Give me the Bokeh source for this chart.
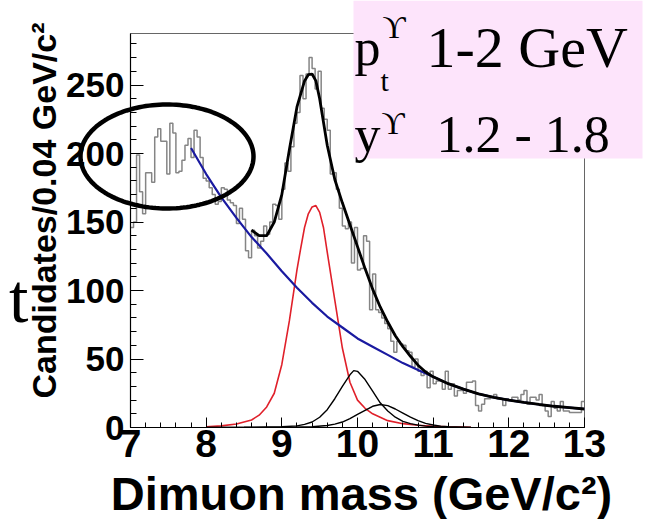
import numpy as np
from bokeh.plotting import figure
from bokeh.layouts import column
from bokeh.models import Range1d, SingleIntervalTicker, Label, PolyAnnotation, BoxAnnotation
from bokeh.embed import file_html
from bokeh.resources import INLINE

# ---------------- data ----------------
bin_width = 0.04
hist_start = 7.0
counts = [
    146, 150, 199, 172, 156, 186, 186, 179, 212, 218, 209, 209, 185, 222, 215,
    186, 187, 195, 206, 211, 197, 217, 212, 197, 182,
    180, 175, 170, 163, 165, 175, 174, 166, 164, 162, 149, 160, 152, 129, 124,
    144, 140, 131, 136, 147, 141, 150, 163,
    162, 152, 174, 193, 187, 205, 222, 230, 257, 240, 258, 270, 262, 247, 260,
    233, 225, 217, 185, 186, 174, 160, 147, 145, 150, 120, 146,
    115, 116, 140, 136, 86, 112, 86, 84, 80, 76, 72, 63, 55, 63, 61,
    60, 56, 55, 44, 50, 41, 38, 41, 29, 41, 32, 34, 34, 28, 41,
    28, 32, 23, 27, 27, 25, 33, 33, 34, 16, 12, 17, 21, 21, 22,
    24, 21, 21, 16, 21, 20, 22, 22, 20, 24, 27, 17, 22, 22, 20,
    24, 16, 12, 8, 19, 14, 12, 19, 12, 12, 11, 11, 11, 11, 19,
]

bkg_x = [7.8, 8.0, 8.2, 8.4, 8.6, 8.8, 9.0, 9.2, 9.4, 9.6, 9.8, 10.0, 10.2, 10.4,
         10.6, 10.8, 11.0, 11.2, 11.4, 11.6, 11.8, 12.0, 12.2, 12.4, 12.6, 12.8, 13.0]
bkg_y = [204, 185, 168, 153, 139, 127, 114, 102, 91, 81, 73, 65, 59, 53,
         47, 42, 37, 32, 28, 24.5, 22, 20, 18.3, 16.8, 15.5, 14.5, 13.5]

y1s_x = [8.0, 8.2, 8.4, 8.6, 8.7, 8.8, 8.9, 9.0, 9.1, 9.2, 9.25, 9.3, 9.35, 9.4,
         9.45, 9.5, 9.55, 9.6, 9.7, 9.8, 9.9, 10.0, 10.1, 10.2, 10.4, 10.6, 10.8,
         11.0, 11.2, 11.5]
y1s_y = [0.5, 1.2, 2.5, 5.5, 9, 15, 25, 46, 78, 115, 131, 146, 156, 161,
         162, 157, 146, 128, 93, 58, 33, 20, 14, 10, 5, 2.8, 1.6,
         0.9, 0.5, 0.2]

y2s_x = [8.0, 8.5, 9.0, 9.2, 9.3, 9.4, 9.5, 9.6, 9.7, 9.8, 9.9, 9.95, 10.0, 10.1,
         10.2, 10.3, 10.4, 10.5, 10.6, 10.7, 10.8, 10.9, 11.0, 11.2, 11.5]
y2s_y = [0.1, 0.2, 0.5, 1.2, 2.3, 4, 7.5, 13, 21, 30, 38.5, 41.5, 41, 35,
         26.5, 18, 12, 7.5, 4.5, 2.8, 1.7, 1, 0.6, 0.2, 0.1]

y3s_x = [8.0, 9.0, 9.4, 9.6, 9.7, 9.8, 9.9, 10.0, 10.1, 10.2, 10.3, 10.4, 10.5,
         10.6, 10.7, 10.8, 10.9, 11.0, 11.1, 11.2, 11.5]
y3s_y = [0.05, 0.1, 0.5, 1.5, 2.5, 4, 6.5, 9.5, 12.5, 15.5, 16.8, 16, 13.5,
         10.5, 7.5, 5, 3, 1.8, 1, 0.5, 0.1]

tot_x = [8.6, 8.7, 8.8, 8.9, 9.0, 9.1, 9.2, 9.3, 9.35, 9.4, 9.45, 9.5, 9.6, 9.7,
         9.8, 9.9, 10.0, 10.1, 10.2, 10.3, 10.4, 10.5, 10.6, 10.7, 10.8, 10.9,
         11.0, 11.2, 11.4, 11.6, 11.8, 12.0, 12.2, 12.4, 12.6, 12.8, 13.0]
tot_y = [144, 140, 140, 150, 170, 203, 234, 253, 257.5, 258, 253, 240, 206, 181,
         164, 148, 132, 116, 101, 88, 77, 67, 59, 52, 45.5, 40.5,
         37, 32, 28, 24.5, 22, 20, 18.3, 16.8, 15.5, 14.5, 13.5]

x_min, x_max = 7.0, 13.0
y_min, y_max = 0.0, 287.6

# ---------------- main figure ----------------
W, H = 656, 519
L, R, T, B = 130, 72, 33, 92
p = figure(width=W, height=H, output_backend="svg", toolbar_location=None,
           x_range=Range1d(x_min, x_max), y_range=Range1d(y_min, y_max),
           min_border_left=L, min_border_right=R, min_border_top=T, min_border_bottom=B)
p.frame_align = False
p.grid.visible = False
p.background_fill_color = "white"
p.border_fill_color = "white"
p.outline_line_color = "#666666"
p.outline_line_width = 1

fw, fh = W - L - R, H - T - B
def dx(px):
    return x_min + (px - L) * (x_max - x_min) / fw
def dy(py):
    return y_min + (T + fh - py) * (y_max - y_min) / fh

# histogram
edges = hist_start + bin_width * np.arange(len(counts) + 1)
p.step(edges, list(counts) + [counts[-1]], mode="after", line_color="#858585", line_width=1.5)

# fit components
p.line(y1s_x, y1s_y, line_color="#e0202a", line_width=1.6)
p.line(y2s_x, y2s_y, line_color="black", line_width=1.4)
p.line(y3s_x, y3s_y, line_color="black", line_width=1.4)
p.line(bkg_x, bkg_y, line_color="#1a1aa0", line_width=2.2)
p.line(tot_x, tot_y, line_color="black", line_width=2.8)

# axes
for ax in (p.xaxis[0], p.yaxis[0]):
    ax.axis_line_color = "black"
    ax.axis_line_width = 1.2
    ax.major_tick_line_color = "black"
    ax.minor_tick_line_color = "black"
    ax.major_tick_out = 0
    ax.minor_tick_out = 0
    ax.major_label_text_font = "Liberation Sans"
    ax.major_label_text_font_style = "bold"
    ax.major_label_text_color = "black"

p.xaxis.ticker = SingleIntervalTicker(interval=1, num_minor_ticks=5)
p.xaxis.major_tick_in = 10
p.xaxis.minor_tick_in = 5
p.xaxis.major_label_text_font_size = "39px"
p.xaxis.major_label_standoff = 2

p.yaxis.ticker = SingleIntervalTicker(interval=50, num_minor_ticks=5)
p.yaxis.major_tick_in = 13
p.yaxis.minor_tick_in = 6
p.yaxis.major_label_text_font_size = "35px"
p.yaxis.major_label_standoff = 6

# ---------------- overlay (annotations that reach outside the frame) ----------------
ov = figure(width=W, height=H, output_backend="svg", toolbar_location=None,
            x_range=Range1d(dx(0), dx(W)), y_range=Range1d(dy(H), dy(0)),
            min_border=0, min_border_left=0, min_border_right=0,
            min_border_top=0, min_border_bottom=0,
            x_axis_location=None, y_axis_location=None)
ov.frame_align = False
ov.grid.visible = False
ov.outline_line_color = None
ov.background_fill_color = None
ov.border_fill_color = None
ov.margin = (-H, 0, 0, 0)

# pink info box
ov.add_layout(BoxAnnotation(left=dx(353), right=dx(642), top=dy(0), bottom=dy(158),
                            fill_color="#fde4fb", fill_alpha=1.0, line_color=None))

# ellipse highlight
t = np.linspace(0, 2 * np.pi, 160)
ex = dx(166.5) + (86.5 * (x_max - x_min) / fw) * np.cos(t)
ey = dy(156) + (52 * (y_max - y_min) / fh) * np.sin(t)
ov.add_layout(PolyAnnotation(xs=list(ex), ys=list(ey), fill_alpha=0,
                             line_color="black", line_alpha=1.0, line_width=4.5))

def lab(x, y, text, size, font="Liberation Serif", align="left", baseline="alphabetic",
        style="normal", angle=0.0):
    ov.add_layout(Label(x=dx(x), y=dy(y), text=text, text_align=align,
                        text_baseline=baseline, text_font=font, text_font_style=style,
                        text_font_size=size, text_color="black", angle=angle))

# axis titles and stray letter
lab(361, 493, "Dimuon mass (GeV/c²)", "47px", font="Liberation Sans",
    align="center", baseline="middle", style="bold")
lab(43, 210, "Candidates/0.04 GeV/c²", "34px", font="Liberation Sans",
    align="center", baseline="middle", style="bold", angle=np.pi / 2)
lab(28, 298, "t", "70px", align="right")

# box texts
lab(354, 47, "p", "52px")
lab(380, 80, "t", "30px")
lab(382, 26, "ϒ", "32px")
lab(426, 47, "1-2 GeV", "58px")
lab(354, 134, "y", "52px")
lab(381, 122, "ϒ", "32px")
lab(436, 134, "1.2 - 1.8", "52px")

layout = column(p, ov, spacing=0)
open("out.html", "w").write(file_html(layout, INLINE))
